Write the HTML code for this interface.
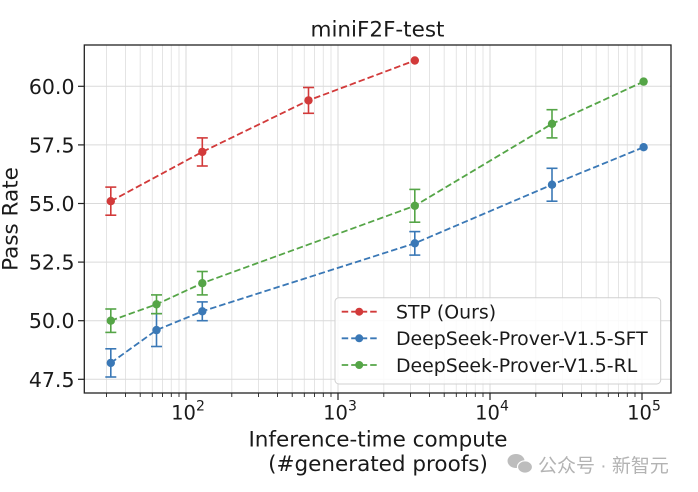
<!DOCTYPE html>
<html>
<head>
<meta charset="utf-8">
<style>
html,body{margin:0;padding:0;background:#fff;}
svg{display:block;}
text{font-family:"DejaVu Sans","Liberation Sans",sans-serif;fill:#1a1a1a;}
</style>
</head>
<body>
<svg width="698" height="492" viewBox="0 0 698 492" xmlns="http://www.w3.org/2000/svg">
<rect x="0" y="0" width="698" height="492" fill="#fff"/>
<!-- minor vertical grid -->
<g stroke="#e4e4e4" stroke-width="1">
<line x1="106.5" y1="45" x2="106.5" y2="393"/><line x1="125.5" y1="45" x2="125.5" y2="393"/><line x1="140.2" y1="45" x2="140.2" y2="393"/><line x1="152.3" y1="45" x2="152.3" y2="393"/><line x1="162.5" y1="45" x2="162.5" y2="393"/><line x1="171.3" y1="45" x2="171.3" y2="393"/><line x1="179" y1="45" x2="179" y2="393"/>
<line x1="231.8" y1="45" x2="231.8" y2="393"/><line x1="258.5" y1="45" x2="258.5" y2="393"/><line x1="277.5" y1="45" x2="277.5" y2="393"/><line x1="292.2" y1="45" x2="292.2" y2="393"/><line x1="304.3" y1="45" x2="304.3" y2="393"/><line x1="314.5" y1="45" x2="314.5" y2="393"/><line x1="323.3" y1="45" x2="323.3" y2="393"/><line x1="331" y1="45" x2="331" y2="393"/>
<line x1="383.8" y1="45" x2="383.8" y2="393"/><line x1="410.5" y1="45" x2="410.5" y2="393"/><line x1="429.5" y1="45" x2="429.5" y2="393"/><line x1="444.2" y1="45" x2="444.2" y2="393"/><line x1="456.3" y1="45" x2="456.3" y2="393"/><line x1="466.5" y1="45" x2="466.5" y2="393"/><line x1="475.3" y1="45" x2="475.3" y2="393"/><line x1="483" y1="45" x2="483" y2="393"/>
<line x1="535.8" y1="45" x2="535.8" y2="393"/><line x1="562.5" y1="45" x2="562.5" y2="393"/><line x1="581.5" y1="45" x2="581.5" y2="393"/><line x1="596.2" y1="45" x2="596.2" y2="393"/><line x1="608.3" y1="45" x2="608.3" y2="393"/><line x1="618.5" y1="45" x2="618.5" y2="393"/><line x1="627.3" y1="45" x2="627.3" y2="393"/><line x1="635" y1="45" x2="635" y2="393"/>
</g>
<!-- major grid -->
<g stroke="#dadada" stroke-width="1">
<line x1="186" y1="45" x2="186" y2="393"/><line x1="338" y1="45" x2="338" y2="393"/><line x1="490" y1="45" x2="490" y2="393"/><line x1="642" y1="45" x2="642" y2="393"/>
<line x1="84.3" y1="86.3" x2="671" y2="86.3"/><line x1="84.3" y1="144.9" x2="671" y2="144.9"/><line x1="84.3" y1="203.5" x2="671" y2="203.5"/><line x1="84.3" y1="262.1" x2="671" y2="262.1"/><line x1="84.3" y1="320.7" x2="671" y2="320.7"/><line x1="84.3" y1="379.3" x2="671" y2="379.3"/>
</g>

<!-- SFT (blue) -->
<g stroke="#3a78b6" fill="none" stroke-width="1.6">
<polyline stroke-dasharray="6.5 3" stroke-width="1.8" points="110.8,362.9 156.5,330.1 202.3,311.3 414.8,243.3 552,184.7 643.6,147.2"/>
<line x1="110.8" y1="348.8" x2="110.8" y2="377"/><line x1="105.3" y1="348.8" x2="116.3" y2="348.8"/><line x1="105.3" y1="377" x2="116.3" y2="377"/>
<line x1="156.5" y1="313.7" x2="156.5" y2="346.5"/><line x1="151" y1="313.7" x2="162" y2="313.7"/><line x1="151" y1="346.5" x2="162" y2="346.5"/>
<line x1="202.3" y1="301.9" x2="202.3" y2="320.7"/><line x1="196.8" y1="301.9" x2="207.8" y2="301.9"/><line x1="196.8" y1="320.7" x2="207.8" y2="320.7"/>
<line x1="414.8" y1="231.6" x2="414.8" y2="255.1"/><line x1="409.3" y1="231.6" x2="420.3" y2="231.6"/><line x1="409.3" y1="255.1" x2="420.3" y2="255.1"/>
<line x1="552" y1="168.3" x2="552" y2="201.2"/><line x1="546.5" y1="168.3" x2="557.5" y2="168.3"/><line x1="546.5" y1="201.2" x2="557.5" y2="201.2"/>
</g>
<g fill="#3a78b6">
<circle cx="110.8" cy="362.9" r="4.2"/><circle cx="156.5" cy="330.1" r="4.2"/><circle cx="202.3" cy="311.3" r="4.2"/><circle cx="414.8" cy="243.3" r="4.2"/><circle cx="552" cy="184.7" r="4.2"/><circle cx="643.6" cy="147.2" r="4.2"/>
</g>

<!-- RL (green) -->
<g stroke="#55a547" fill="none" stroke-width="1.6">
<polyline stroke-dasharray="6.5 3" stroke-width="1.8" points="110.8,320.7 156.5,304.3 202.3,283.2 414.8,205.8 552,123.8 643.6,81.6"/>
<line x1="110.8" y1="309" x2="110.8" y2="332.4"/><line x1="105.3" y1="309" x2="116.3" y2="309"/><line x1="105.3" y1="332.4" x2="116.3" y2="332.4"/>
<line x1="156.5" y1="294.9" x2="156.5" y2="313.7"/><line x1="151" y1="294.9" x2="162" y2="294.9"/><line x1="151" y1="313.7" x2="162" y2="313.7"/>
<line x1="202.3" y1="271.5" x2="202.3" y2="294.9"/><line x1="196.8" y1="271.5" x2="207.8" y2="271.5"/><line x1="196.8" y1="294.9" x2="207.8" y2="294.9"/>
<line x1="414.8" y1="189.4" x2="414.8" y2="222.2"/><line x1="409.3" y1="189.4" x2="420.3" y2="189.4"/><line x1="409.3" y1="222.2" x2="420.3" y2="222.2"/>
<line x1="552" y1="109.7" x2="552" y2="137.9"/><line x1="546.5" y1="109.7" x2="557.5" y2="109.7"/><line x1="546.5" y1="137.9" x2="557.5" y2="137.9"/>
</g>
<g fill="#55a547">
<circle cx="110.8" cy="320.7" r="4.2"/><circle cx="156.5" cy="304.3" r="4.2"/><circle cx="202.3" cy="283.2" r="4.2"/><circle cx="414.8" cy="205.8" r="4.2"/><circle cx="552" cy="123.8" r="4.2"/><circle cx="643.6" cy="81.6" r="4.2"/>
</g>

<!-- STP (red) -->
<g stroke="#d23a3a" fill="none" stroke-width="1.6">
<polyline stroke-dasharray="6.5 3" stroke-width="1.8" points="110.8,201.2 202.3,151.9 308.5,100.4 414.8,60.5"/>
<line x1="110.8" y1="187.1" x2="110.8" y2="215.2"/><line x1="105.3" y1="187.1" x2="116.3" y2="187.1"/><line x1="105.3" y1="215.2" x2="116.3" y2="215.2"/>
<line x1="202.3" y1="137.9" x2="202.3" y2="166"/><line x1="196.8" y1="137.9" x2="207.8" y2="137.9"/><line x1="196.8" y1="166" x2="207.8" y2="166"/>
<line x1="308.5" y1="87.5" x2="308.5" y2="113.3"/><line x1="303" y1="87.5" x2="314" y2="87.5"/><line x1="303" y1="113.3" x2="314" y2="113.3"/>
</g>
<g fill="#d23a3a">
<circle cx="110.8" cy="201.2" r="4.2"/><circle cx="202.3" cy="151.9" r="4.2"/><circle cx="308.5" cy="100.4" r="4.2"/><circle cx="414.8" cy="60.5" r="4.2"/>
</g>

<!-- Legend -->
<rect x="335" y="297.7" width="325.7" height="86.3" rx="4" ry="4" fill="#ffffff" fill-opacity="0.85" stroke="#d0d0d0" stroke-width="1"/>
<line x1="341.7" y1="311.7" x2="376.7" y2="311.7" stroke="#d23a3a" stroke-width="1.8" stroke-dasharray="6.5 3"/>
<circle cx="359.2" cy="311.7" r="4" fill="#d23a3a"/>
<line x1="341.7" y1="338.3" x2="376.7" y2="338.3" stroke="#3a78b6" stroke-width="1.8" stroke-dasharray="6.5 3"/>
<circle cx="359.2" cy="338.3" r="4" fill="#3a78b6"/>
<line x1="341.7" y1="365" x2="376.7" y2="365" stroke="#55a547" stroke-width="1.8" stroke-dasharray="6.5 3"/>
<circle cx="359.2" cy="365" r="4" fill="#55a547"/>
<text x="396" y="318.6" font-size="18.9">STP (Ours)</text>
<text x="396" y="345.2" font-size="18.9">DeepSeek-Prover-V1.5-SFT</text>
<text x="396" y="371.9" font-size="18.9">DeepSeek-Prover-V1.5-RL</text>

<!-- Axes spines -->
<rect x="84.3" y="45" width="586.7" height="348" fill="none" stroke="#222" stroke-width="1.3"/>

<!-- y ticks -->
<g stroke="#222" stroke-width="1.2">
<line x1="78" y1="86.3" x2="84.3" y2="86.3"/><line x1="78" y1="144.9" x2="84.3" y2="144.9"/><line x1="78" y1="203.5" x2="84.3" y2="203.5"/><line x1="78" y1="262.1" x2="84.3" y2="262.1"/><line x1="78" y1="320.7" x2="84.3" y2="320.7"/><line x1="78" y1="379.3" x2="84.3" y2="379.3"/>
</g>
<g font-size="20.5" text-anchor="end">
<text x="74.5" y="93.8">60.0</text>
<text x="74.5" y="152.4">57.5</text>
<text x="74.5" y="211">55.0</text>
<text x="74.5" y="269.6">52.5</text>
<text x="74.5" y="328.2">50.0</text>
<text x="74.5" y="386.8">47.5</text>
</g>

<!-- x ticks -->
<g stroke="#222" stroke-width="1.2">
<line x1="186" y1="393" x2="186" y2="400"/><line x1="338" y1="393" x2="338" y2="400"/><line x1="490" y1="393" x2="490" y2="400"/><line x1="642" y1="393" x2="642" y2="400"/>
</g>
<g stroke="#222" stroke-width="0.9">
<line x1="106.5" y1="393" x2="106.5" y2="397"/><line x1="125.5" y1="393" x2="125.5" y2="397"/><line x1="140.2" y1="393" x2="140.2" y2="397"/><line x1="152.3" y1="393" x2="152.3" y2="397"/><line x1="162.5" y1="393" x2="162.5" y2="397"/><line x1="171.3" y1="393" x2="171.3" y2="397"/><line x1="179" y1="393" x2="179" y2="397"/>
<line x1="231.8" y1="393" x2="231.8" y2="397"/><line x1="258.5" y1="393" x2="258.5" y2="397"/><line x1="277.5" y1="393" x2="277.5" y2="397"/><line x1="292.2" y1="393" x2="292.2" y2="397"/><line x1="304.3" y1="393" x2="304.3" y2="397"/><line x1="314.5" y1="393" x2="314.5" y2="397"/><line x1="323.3" y1="393" x2="323.3" y2="397"/><line x1="331" y1="393" x2="331" y2="397"/>
<line x1="383.8" y1="393" x2="383.8" y2="397"/><line x1="410.5" y1="393" x2="410.5" y2="397"/><line x1="429.5" y1="393" x2="429.5" y2="397"/><line x1="444.2" y1="393" x2="444.2" y2="397"/><line x1="456.3" y1="393" x2="456.3" y2="397"/><line x1="466.5" y1="393" x2="466.5" y2="397"/><line x1="475.3" y1="393" x2="475.3" y2="397"/><line x1="483" y1="393" x2="483" y2="397"/>
<line x1="535.8" y1="393" x2="535.8" y2="397"/><line x1="562.5" y1="393" x2="562.5" y2="397"/><line x1="581.5" y1="393" x2="581.5" y2="397"/><line x1="596.2" y1="393" x2="596.2" y2="397"/><line x1="608.3" y1="393" x2="608.3" y2="397"/><line x1="618.5" y1="393" x2="618.5" y2="397"/><line x1="627.3" y1="393" x2="627.3" y2="397"/><line x1="635" y1="393" x2="635" y2="397"/>
</g>
<g font-size="19.5" text-anchor="middle">
<text x="188" y="419.3">10<tspan font-size="14" dy="-9">2</tspan></text>
<text x="340" y="419.3">10<tspan font-size="14" dy="-9">3</tspan></text>
<text x="492" y="419.3">10<tspan font-size="14" dy="-9">4</tspan></text>
<text x="644" y="419.3">10<tspan font-size="14" dy="-9">5</tspan></text>
</g>

<!-- Labels -->
<text x="377.5" y="36.7" font-size="21.5" text-anchor="middle">miniF2F-test</text>
<text x="378" y="446.7" font-size="21.5" text-anchor="middle">Inference-time compute</text>
<text x="378" y="471" font-size="21.5" text-anchor="middle">(#generated proofs)</text>
<text transform="translate(17.5,219) rotate(-90)" font-size="21.5" text-anchor="middle">Pass Rate</text>

<!-- Watermark -->
<g fill="#bdbdbd">
<ellipse cx="516" cy="461" rx="8.5" ry="7"/>
<ellipse cx="525" cy="467" rx="7.5" ry="6.2" stroke="#fff" stroke-width="1.2"/>
</g>
<text x="538" y="472" font-size="19" fill="#b3b3b3" style="fill:#b3b3b3;font-family:'Liberation Sans','Noto Sans CJK SC',sans-serif;">公众号 · 新智元</text>
</svg>
</body>
</html>
